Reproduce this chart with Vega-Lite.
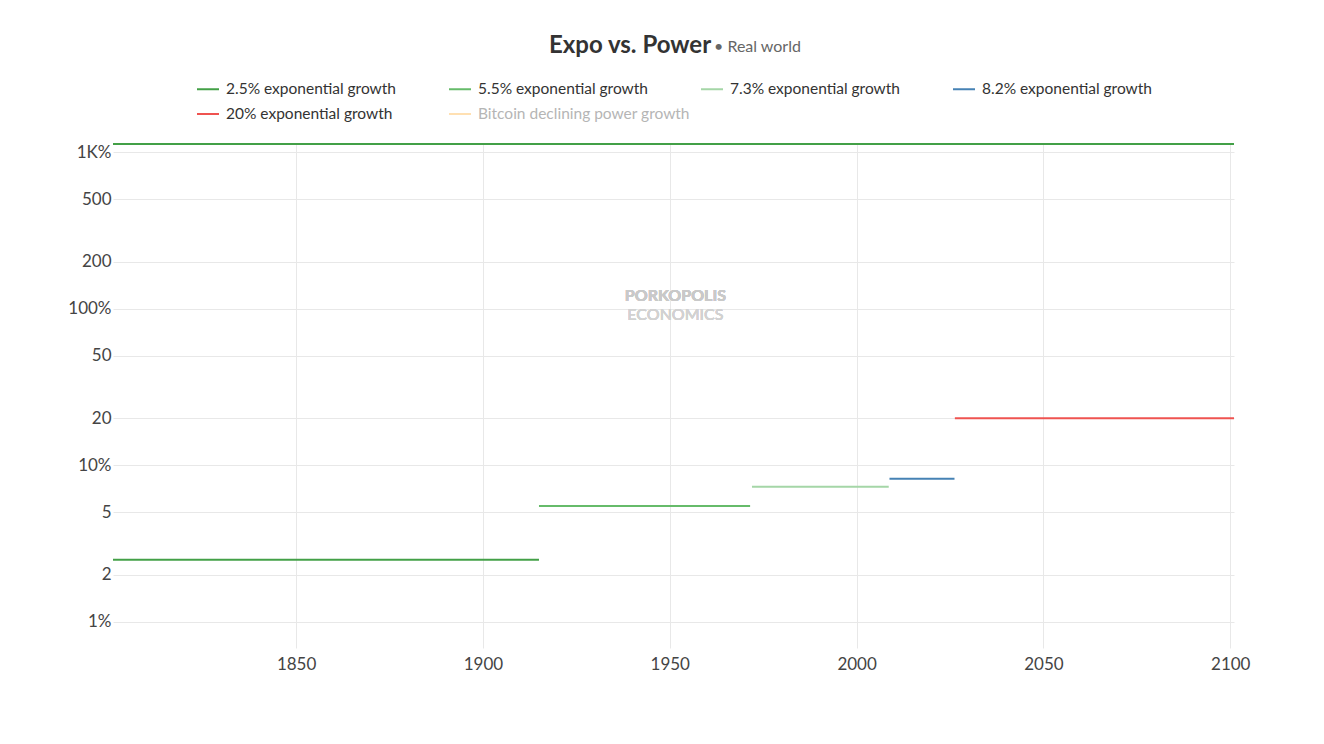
{
  "$schema": "https://vega.github.io/schema/vega-lite/v6.json",
  "autosize": "none",
  "width": 1121,
  "height": 505,
  "padding": {"left": 113, "top": 143, "right": 90, "bottom": 96},
  "background": "white",
  "title": {
    "text": "Expo vs. Power\u00a0\u00a0\u00a0\u00a0\u00a0\u00a0\u00a0\u00a0\u00a0\u00a0\u00a0\u00a0\u00a0\u00a0\u00a0\u200b",
    "subtitle": "\u200b\u00a0\u00a0\u00a0\u00a0\u00a0\u00a0\u00a0\u00a0\u00a0\u00a0\u00a0\u00a0\u00a0\u00a0\u00a0\u00a0\u00a0\u00a0\u00a0\u00a0\u00a0\u00a0\u00a0\u00a0\u00a0\u00a0\u00a0\u00a0\u00a0\u00a0\u00a0\u00a0\u00a0\u00a0\u00a0\u00a0\u00a0\u00a0\u00a0\u00a0\u00a0• Real world",
    "anchor": "middle",
    "font": "Lato",
    "fontSize": 24,
    "fontWeight": "bold",
    "color": "#333333",
    "subtitleFont": "Lato",
    "subtitleFontSize": 16,
    "subtitleColor": "#666666",
    "subtitlePadding": -19,
    "offset": 19
  },
  "data": {
    "values": [
      {"series": "2.5% exponential growth", "start": 1801, "end": 2101, "rate": 1125},
      {"series": "2.5% exponential growth", "start": 1801, "end": 1915, "rate": 2.5},
      {"series": "5.5% exponential growth", "start": 1915, "end": 1971.5, "rate": 5.5},
      {"series": "7.3% exponential growth", "start": 1972, "end": 2008.6, "rate": 7.3},
      {"series": "8.2% exponential growth", "start": 2008.8, "end": 2026.2, "rate": 8.2},
      {"series": "20% exponential growth", "start": 2026.3, "end": 2101, "rate": 20}
    ]
  },
  "layer": [
    {
      "mark": {"type": "rule", "strokeWidth": 2, "clip": true},
      "encoding": {
        "x": {
          "field": "start", "type": "quantitative",
          "scale": {"domain": [1801, 2101], "nice": false, "zero": false},
          "axis": {
            "values": [1850, 1900, 1950, 2000, 2050, 2100],
            "format": "d",
            "title": null,
            "grid": true,
            "domain": false,
            "ticks": false,
            "labelPadding": 8,
            "labelFont": "Lato",
            "labelFontSize": 17,
            "labelColor": "#444444",
            "gridColor": "#e8e8e8"
          }
        },
        "x2": {"field": "end"},
        "y": {
          "field": "rate", "type": "quantitative",
          "scale": {"type": "log", "domain": [0.682, 1142], "nice": false},
          "axis": {
            "values": [1, 2, 5, 10, 20, 50, 100, 200, 500, 1000],
            "labelExpr": "datum.value >= 1000 ? '1K%' : (datum.value == 100 || datum.value == 10 || datum.value == 1) ? datum.value + '%' : datum.value + ''",
            "title": null,
            "grid": true,
            "domain": false,
            "ticks": false,
            "labelPadding": 2,
            "labelFont": "Lato",
            "labelFontSize": 17,
            "labelColor": "#444444",
            "gridColor": "#e8e8e8"
          }
        },
        "color": {
          "field": "series", "type": "nominal",
          "scale": {
            "domain": ["2.5% exponential growth", "5.5% exponential growth", "7.3% exponential growth", "8.2% exponential growth", "20% exponential growth", "Bitcoin declining power growth"],
            "range": ["#43a047", "#66bb6a", "#a5d6a7", "#4682b4", "#ef5350", "#ffe0b2"]
          },
          "legend": {
            "title": null,
            "orient": "top",
            "direction": "horizontal",
            "columns": 4,
            "gridAlign": "all",
            "columnPadding": 7,
            "rowPadding": 4,
            "offset": 20,
            "symbolType": "stroke",
            "symbolSize": 484,
            "symbolStrokeWidth": 2,
            "labelFont": "Lato",
            "labelFontSize": 15.5,
            "labelColor": "#333333",
            "labelOffset": 6,
            "labelLimit": 300,
            "encode": {
              "labels": {
                "update": {
                  "fill": {"signal": "datum.label == 'Bitcoin declining power growth' ? '#b5b5b5' : '#333333'"}
                }
              }
            }
          }
        }
      }
    },
    {
      "mark": {"type": "text", "font": "Lato", "fontSize": 16, "fontWeight": "bold", "color": "#c9c9c9"},
      "encoding": {
        "x": {"datum": 1951.5, "type": "quantitative"},
        "y": {"datum": 120.4, "type": "quantitative"},
        "text": {"value": "PORKOPOLIS"}
      }
    },
    {
      "mark": {"type": "text", "font": "Lato", "fontSize": 16, "color": "#d2d2d2"},
      "encoding": {
        "x": {"datum": 1951.5, "type": "quantitative"},
        "y": {"datum": 91.5, "type": "quantitative"},
        "text": {"value": "ECONOMICS"}
      }
    }
  ],
  "config": {
    "view": {"stroke": null},
    "legend": {"layout": {"top": {"anchor": "middle"}}}
  }
}
